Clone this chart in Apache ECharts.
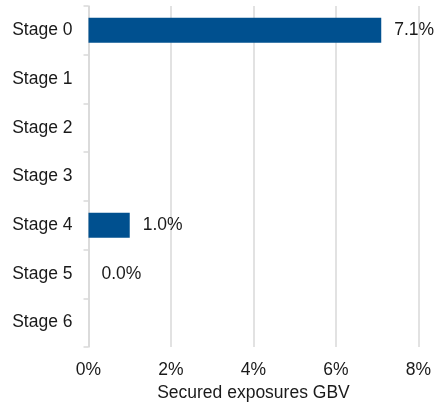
<!DOCTYPE html>
<html>
<head>
<meta charset="utf-8">
<script src="https://cdn.jsdelivr.net/npm/echarts@6/dist/echarts.min.js"></script>
<style>
  html, body { margin: 0; padding: 0; background: #ffffff; }
  #chart { width: 434px; height: 407px; }
</style>
</head>
<body>
<div id="chart"></div>
<script>
// Stage categories, top to bottom
const stages = ['Stage 0', 'Stage 1', 'Stage 2', 'Stage 3', 'Stage 4', 'Stage 5', 'Stage 6'];
// Share of secured exposures GBV, in percent (null = no value reported)
const securedGbvPct = [7.1, null, null, null, 1.0, 0.0, null];
// Horizontal axis range and step, in percent
const axisMin = 0;
const axisMax = 8;
const axisStep = 2;
const axisTitle = 'Secured exposures GBV';

const textColor = '#1a1a1a';
const font = '"Liberation Sans", Arial, sans-serif';

const chart = echarts.init(document.getElementById('chart'), null, { renderer: 'canvas' });
chart.setOption({
  animation: false,
  backgroundColor: '#ffffff',
  grid: { left: 88.5, right: 12, top: 6, bottom: 60, containLabel: false },
  xAxis: {
    type: 'value',
    min: axisMin,
    max: axisMax,
    interval: axisStep,
    name: axisTitle,
    nameLocation: 'middle',
    nameGap: 36,
    nameTextStyle: { color: textColor, fontSize: 17.5, fontFamily: font },
    axisLine: { show: false },
    axisTick: { show: false },
    axisLabel: {
      color: textColor, fontSize: 17.5, fontFamily: font, margin: 14,
      formatter: v => v + '%'
    },
    splitLine: { show: true, lineStyle: { color: '#d9d9d9', width: 1.5 } }
  },
  yAxis: {
    type: 'category',
    data: stages,
    inverse: true,
    axisLine: { show: true, lineStyle: { color: '#d9d9d9', width: 1.5 } },
    axisTick: { show: true, length: 5, lineStyle: { color: '#d9d9d9', width: 1.5 } },
    axisLabel: { color: textColor, fontSize: 17.5, fontFamily: font, margin: 16 },
    splitLine: { show: false }
  },
  series: [{
    type: 'bar',
    data: securedGbvPct,
    barWidth: 25,
    itemStyle: { color: '#00508f' },
    label: {
      show: true,
      position: 'right',
      distance: 13,
      color: textColor,
      fontSize: 17.5,
      fontFamily: font,
      formatter: p => (p.value == null ? '' : p.value.toFixed(1) + '%')
    }
  }]
});
</script>
</body>
</html>
